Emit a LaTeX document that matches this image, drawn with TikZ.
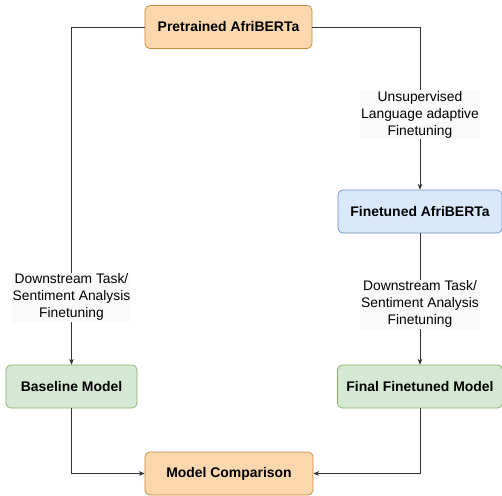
\documentclass[tikz,border=0pt]{standalone}
\usepackage{fontspec}
\setmainfont{Liberation Sans}
\usetikzlibrary{arrows.meta}
\definecolor{orfill}{HTML}{FAD7AC}
\definecolor{ordraw}{HTML}{C98A3E}
\definecolor{blfill}{HTML}{DAE8FC}
\definecolor{bldraw}{HTML}{6C8EBF}
\definecolor{grfill}{HTML}{D5E8D4}
\definecolor{grdraw}{HTML}{82B366}
\definecolor{lnk}{HTML}{333333}

\begin{document}
\begin{tikzpicture}[x=0.03cm,y=-0.03cm,>={Stealth[length=5pt,width=4pt]},
    box/.style={rounded corners=4pt,line width=0.6pt,minimum height=1.29cm,
      inner sep=0pt,font=\fontsize{11.9}{13}\selectfont\bfseries},
    orbox/.style={box,draw=ordraw,fill=orfill},
    blbox/.style={box,draw=bldraw,fill=blfill},
    grbox/.style={box,draw=grdraw,fill=grfill},
    lbl/.style={fill=black!2,align=center,inner sep=1pt,
      font=\fontsize{11.8}{14.5}\selectfont},
    link/.style={->,draw=lnk,line width=0.7pt}]
  \useasboundingbox (0,0) rectangle (502,495);
  % boxes
  \node[orbox,minimum width=5.01cm] (pre) at (228.5,27) {Pretrained AfriBERTa};
  \node[blbox,minimum width=4.92cm] (ft) at (420,211.5) {Finetuned AfriBERTa};
  \node[grbox,minimum width=3.93cm] (base) at (71.5,386.5) {Baseline Model};
  \node[grbox,minimum width=4.95cm] (fin) at (420,386.5) {Final Finetuned Model};
  \node[orbox,minimum width=5.04cm] (cmp) at (229,473.5) {Model Comparison};
  % left branch
  \draw[link] (pre.west) -| (base.north)
    node[lbl,pos=0.9] {Downstream Task/\\Sentiment Analysis\\Finetuning};
  % right branch
  \draw[link] (pre.east) -| (ft.north)
    node[lbl,pos=0.77] {Unsupervised\\Language adaptive\\Finetuning};
  \draw[link] (ft.south) -- (fin.north)
    node[lbl,pos=0.54] {Downstream Task/\\Sentiment Analysis\\Finetuning};
  % comparison
  \draw[link] (base.south) |- (cmp.west);
  \draw[link] (fin.south) |- (cmp.east);
\end{tikzpicture}
\end{document}
